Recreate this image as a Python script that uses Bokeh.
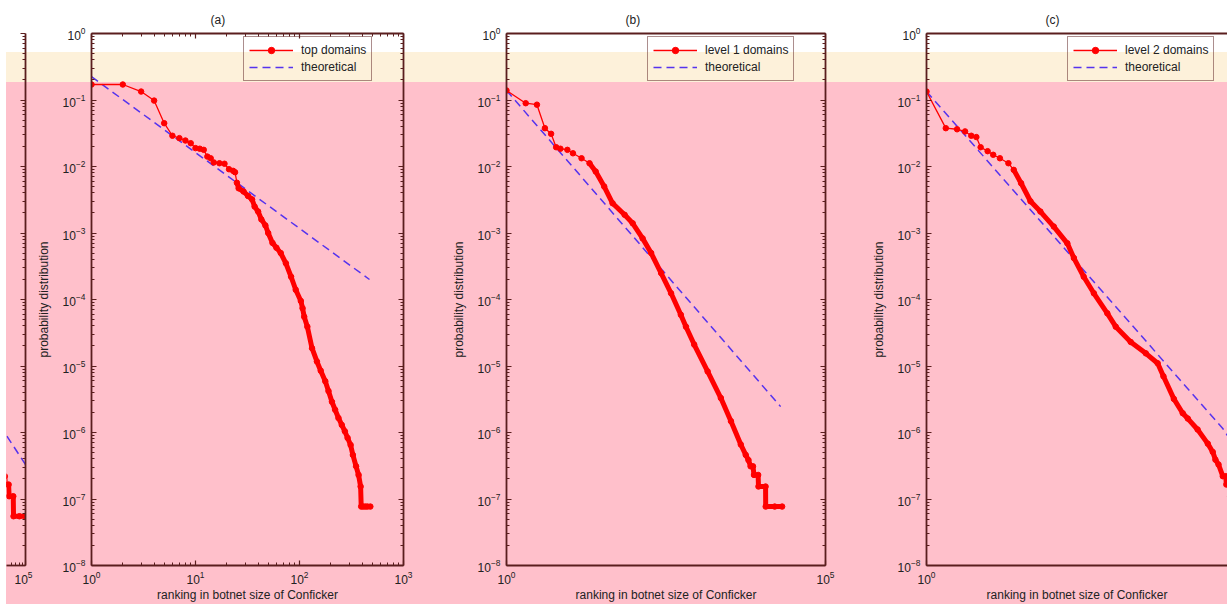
import numpy as np
from bokeh.plotting import figure
from bokeh.models import LogAxis, FixedTicker, Legend, Row, CustomJSTickFormatter
from bokeh.embed import file_html
from bokeh.resources import INLINE

# ---------------- data ----------------
ranks_a = [1, 2, 3, 4, 5, 6, 7, 8, 9, 10, 11, 12, 13, 14, 15, 17, 19, 21, 23, 24,
           25, 26, 29, 32, 35, 37, 40, 43, 47, 50, 55, 60, 66, 74, 83, 92, 103, 107, 111, 119,
           132, 147, 160, 177, 190, 205, 220, 237, 255, 273, 290, 310, 326, 350, 370, 387, 392,
           410, 430, 450, 480]
prob_a = [0.171, 0.171, 0.134, 0.098, 0.0448, 0.029, 0.0267, 0.0246, 0.0224, 0.0189,
          0.0185, 0.0178, 0.0141, 0.0133, 0.0115, 0.0112, 0.011, 0.0091, 0.0086, 0.0082,
          0.0057, 0.0047, 0.0042, 0.0036, 0.0032, 0.0025, 0.0021, 0.0016, 0.0013, 0.001,
          0.00071, 0.0006, 0.0005, 0.00035, 0.00022, 0.00014, 9.5e-5, 7.4e-5, 5.5e-5, 3.9e-5,
          1.85e-5, 1.17e-5, 8.5e-6, 5.9e-6, 4.2e-6, 2.9e-6, 2.2e-6, 1.65e-6, 1.3e-6, 1.04e-6,
          8.3e-7, 6.5e-7, 4.6e-7, 3.1e-7, 2.3e-7, 1.54e-7, 7.7e-8, 7.7e-8, 7.7e-8, 7.7e-8, 7.7e-8]
theory_ranks_a = [1, 471]
theory_prob_a = [0.224, 2.0e-4]

ranks_b = [1, 2, 3, 4, 5, 6, 7, 9, 11, 15, 20, 25, 34, 46, 71, 95, 136, 185, 265, 380,
           540, 650, 875, 1420, 2290, 3300, 4700, 5620, 6200, 6700, 7300, 7570, 8800, 8900,
           11500, 11550, 16000, 20900]
prob_b = [0.139, 0.0895, 0.085, 0.0377, 0.031, 0.0195, 0.0185, 0.0178, 0.0158, 0.0133,
          0.0112, 0.0084, 0.005, 0.0028, 0.00188, 0.0014, 0.00083, 0.0005, 0.00025, 0.000124,
          5.9e-5, 3.9e-5, 2.1e-5, 8.3e-6, 3.3e-6, 1.48e-6, 6.6e-7, 4.6e-7, 3.85e-7, 3.1e-7,
          3.1e-7, 2.3e-7, 2.3e-7, 1.54e-7, 1.54e-7, 7.7e-8, 7.7e-8, 7.7e-8]
theory_ranks_b = [1, 19800]
theory_prob_b = [0.139, 2.45e-6]

ranks_c = [1, 2, 3, 4, 5, 6, 7, 9, 11, 14, 19, 23, 30, 42, 60, 97, 158, 200, 285, 410,
           665, 900, 1540, 2650, 4060, 5000, 7270, 10000, 12000, 17060, 24600, 29400, 32400,
           36200, 42200, 47000, 48000, 54000, 55000, 64000, 64600, 80000, 100000]
prob_c = [0.134, 0.0377, 0.0363, 0.0337, 0.029, 0.0277, 0.0195, 0.017, 0.015, 0.0133,
          0.0112, 0.0089, 0.0056, 0.003, 0.0021, 0.00125, 0.0007, 0.00042, 0.00022, 0.000124,
          6.2e-5, 3.9e-5, 2.3e-5, 1.55e-5, 1.1e-5, 7e-6, 3.2e-6, 1.95e-6, 1.62e-6, 1.11e-6,
          6.8e-7, 5.1e-7, 3.9e-7, 3.3e-7, 2.2e-7, 2.2e-7, 1.65e-7, 1.65e-7, 1.1e-7, 1.1e-7,
          5.5e-8, 5.5e-8, 5.5e-8]
theory_ranks_c = [1, 42200, 100000]
theory_prob_c = [0.134, 1.15e-6, 3.3e-7]

titles = ["(a)", "(b)", "(c)"]
series_labels = ["top domains", "level 1 domains", "level 2 domains"]
theory_label = "theoretical"
x_label = "ranking in botnet size of Conficker"
y_label = "probability distribution"

# ---------------- style ----------------
PINK = "#ffc0cb"
CREAM = "#fdf1da"
AX = "#5a1e1e"
TXT = "#222222"
RED = "#ff0000"
BLUE = "#5533ee"
FONT = "Liberation Sans"
H = 604

y_major = [10.0 ** k for k in range(-8, 1)]
y_minor = [m * 10.0 ** k for k in range(-8, 0) for m in range(2, 10)]
y_ticker = FixedTicker(ticks=y_major, minor_ticks=y_minor)


def style_axis(ax, labels=True):
    ax.axis_line_color = AX
    ax.axis_line_width = 1.8
    ax.major_tick_line_color = AX
    ax.minor_tick_line_color = AX
    ax.major_tick_line_width = 1.2
    ax.major_tick_in = 5
    ax.major_tick_out = 0
    ax.minor_tick_in = 3
    ax.minor_tick_out = 0
    ax.major_label_text_font = FONT
    ax.major_label_text_color = TXT
    if labels:
        ax.major_label_text_font_size = "12px"
        ax.major_label_standoff = 4
    else:
        ax.formatter = CustomJSTickFormatter(code="return ''")
        ax.major_label_text_font_size = "2px"
        ax.major_label_text_alpha = 0
        ax.major_label_standoff = 0
    ax.axis_label_text_font = FONT
    ax.axis_label_text_font_size = "12px"
    ax.axis_label_text_font_style = "normal"
    ax.axis_label_text_color = TXT


def base_fig(width, xr, bl, br, title):
    p = figure(width=width, height=H, x_axis_type="log", y_axis_type="log",
               x_range=xr, y_range=(1e-8, 1.0), output_backend="svg",
               toolbar_location=None, min_border_left=bl, min_border_right=br,
               min_border_top=33, min_border_bottom=39,
               background_fill_color=None, border_fill_color=None,
               outline_line_color=None)
    p.grid.visible = False
    if title is not None:
        p.title.text = title
        p.title.text_font = FONT
        p.title.text_font_size = "12px"
        p.title.text_font_style = "normal"
        p.title.text_color = TXT
        p.title.align = "left"
        p.title.offset = 119
        p.title.standoff = 13
    return p


def draw(p, ranks, prob, tr, tp, thick_from):
    th = p.line(tr, tp, line_color=BLUE, line_width=1.5, line_dash="8 5")
    r = np.array(ranks, dtype=float)
    v = np.array(prob, dtype=float)
    m = r >= thick_from
    p.line(r[m], v[m], line_color=RED, line_width=5)
    ln = p.line(ranks, prob, line_color=RED, line_width=1.3)
    pts = p.scatter(ranks, prob, size=5.5, color=RED)
    return ln, pts, th


def add_legend(p, label, ln, pts, th, vx, vy):
    lg = Legend(items=[(label, [ln, pts]), (theory_label, [th])], location=(vx, vy))
    lg.background_fill_alpha = 0
    lg.border_line_color = AX
    lg.border_line_width = 1.5
    lg.label_text_font = FONT
    lg.label_text_font_size = "12px"
    lg.label_text_color = TXT
    lg.glyph_width = 44
    lg.glyph_height = 16
    lg.label_height = 16
    lg.padding = 5
    lg.spacing = 1
    lg.label_standoff = 8
    p.add_layout(lg)


def full_panel(width, xr, bl, br, title, x_major, x_minor, ranks, prob, tr, tp,
               thick_from, right_axis=True):
    p = base_fig(width, xr, bl, br, title)
    xt = FixedTicker(ticks=x_major, minor_ticks=x_minor)
    bottom = p.below[0]
    left = p.left[0]
    bottom.ticker = xt
    left.ticker = y_ticker
    bottom.axis_label = x_label
    left.axis_label = y_label
    style_axis(bottom, True)
    style_axis(left, True)
    bottom.major_label_standoff = 5
    bottom.axis_label_standoff = 1
    left.major_label_standoff = 6
    left.axis_label_standoff = 9
    top = LogAxis(ticker=xt)
    style_axis(top, False)
    p.add_layout(top, "above")
    if right_axis:
        right = LogAxis(ticker=y_ticker)
        style_axis(right, False)
        p.add_layout(right, "right")
    ln, pts, th = draw(p, ranks, prob, tr, tp, thick_from)
    return p, ln, pts, th


# partial panel at far left (continuation of panel c)
p0 = base_fig(27, (5.0e4, 1e5), 0, 8, None)
p0.left[0].visible = False
p0_bottom = p0.below[0]
p0_bottom.ticker = FixedTicker(ticks=[1e5], minor_ticks=[6e4, 7e4, 8e4, 9e4])
style_axis(p0_bottom, True)
p0_bottom.major_label_standoff = 5
r0 = LogAxis(ticker=y_ticker)
style_axis(r0, False)
p0.add_layout(r0, "right")
draw(p0, ranks_c, prob_c, theory_ranks_c, theory_prob_c, 20)

x_minor_a = [m * 10.0 ** k for k in range(0, 3) for m in range(2, 10)]
pa, ln, pts, th = full_panel(392, (1, 1000), 52, 22, titles[0], [1, 10, 100, 1000], x_minor_a,
                             ranks_a, prob_a, theory_ranks_a, theory_prob_a, 25)
add_legend(pa, series_labels[0], ln, pts, th, 152, 484)

pb, ln, pts, th = full_panel(421, (1, 1e5), 81, 21, titles[1], [1, 1e5], [],
                             ranks_b, prob_b, theory_ranks_b, theory_prob_b, 20)
add_legend(pb, series_labels[1], ln, pts, th, 141, 484)

pc, ln, pts, th = full_panel(381, (1, 5.0e4), 80, 0, titles[2], [1, 1e5], [],
                             ranks_c, prob_c, theory_ranks_c, theory_prob_c, 20,
                             right_axis=False)
add_legend(pc, series_labels[2], ln, pts, th, 141, 484)

bands = ("linear-gradient(to bottom, #ffffff 0px, #ffffff 52px, "
         f"{CREAM} 52px, {CREAM} 82px, {PINK} 82px, {PINK} 100%)")
layout = Row(children=[p0, pa, pb, pc], styles={"background": bands, "margin-left": "6px"})

open("out.html", "w").write(file_html(layout, INLINE))
